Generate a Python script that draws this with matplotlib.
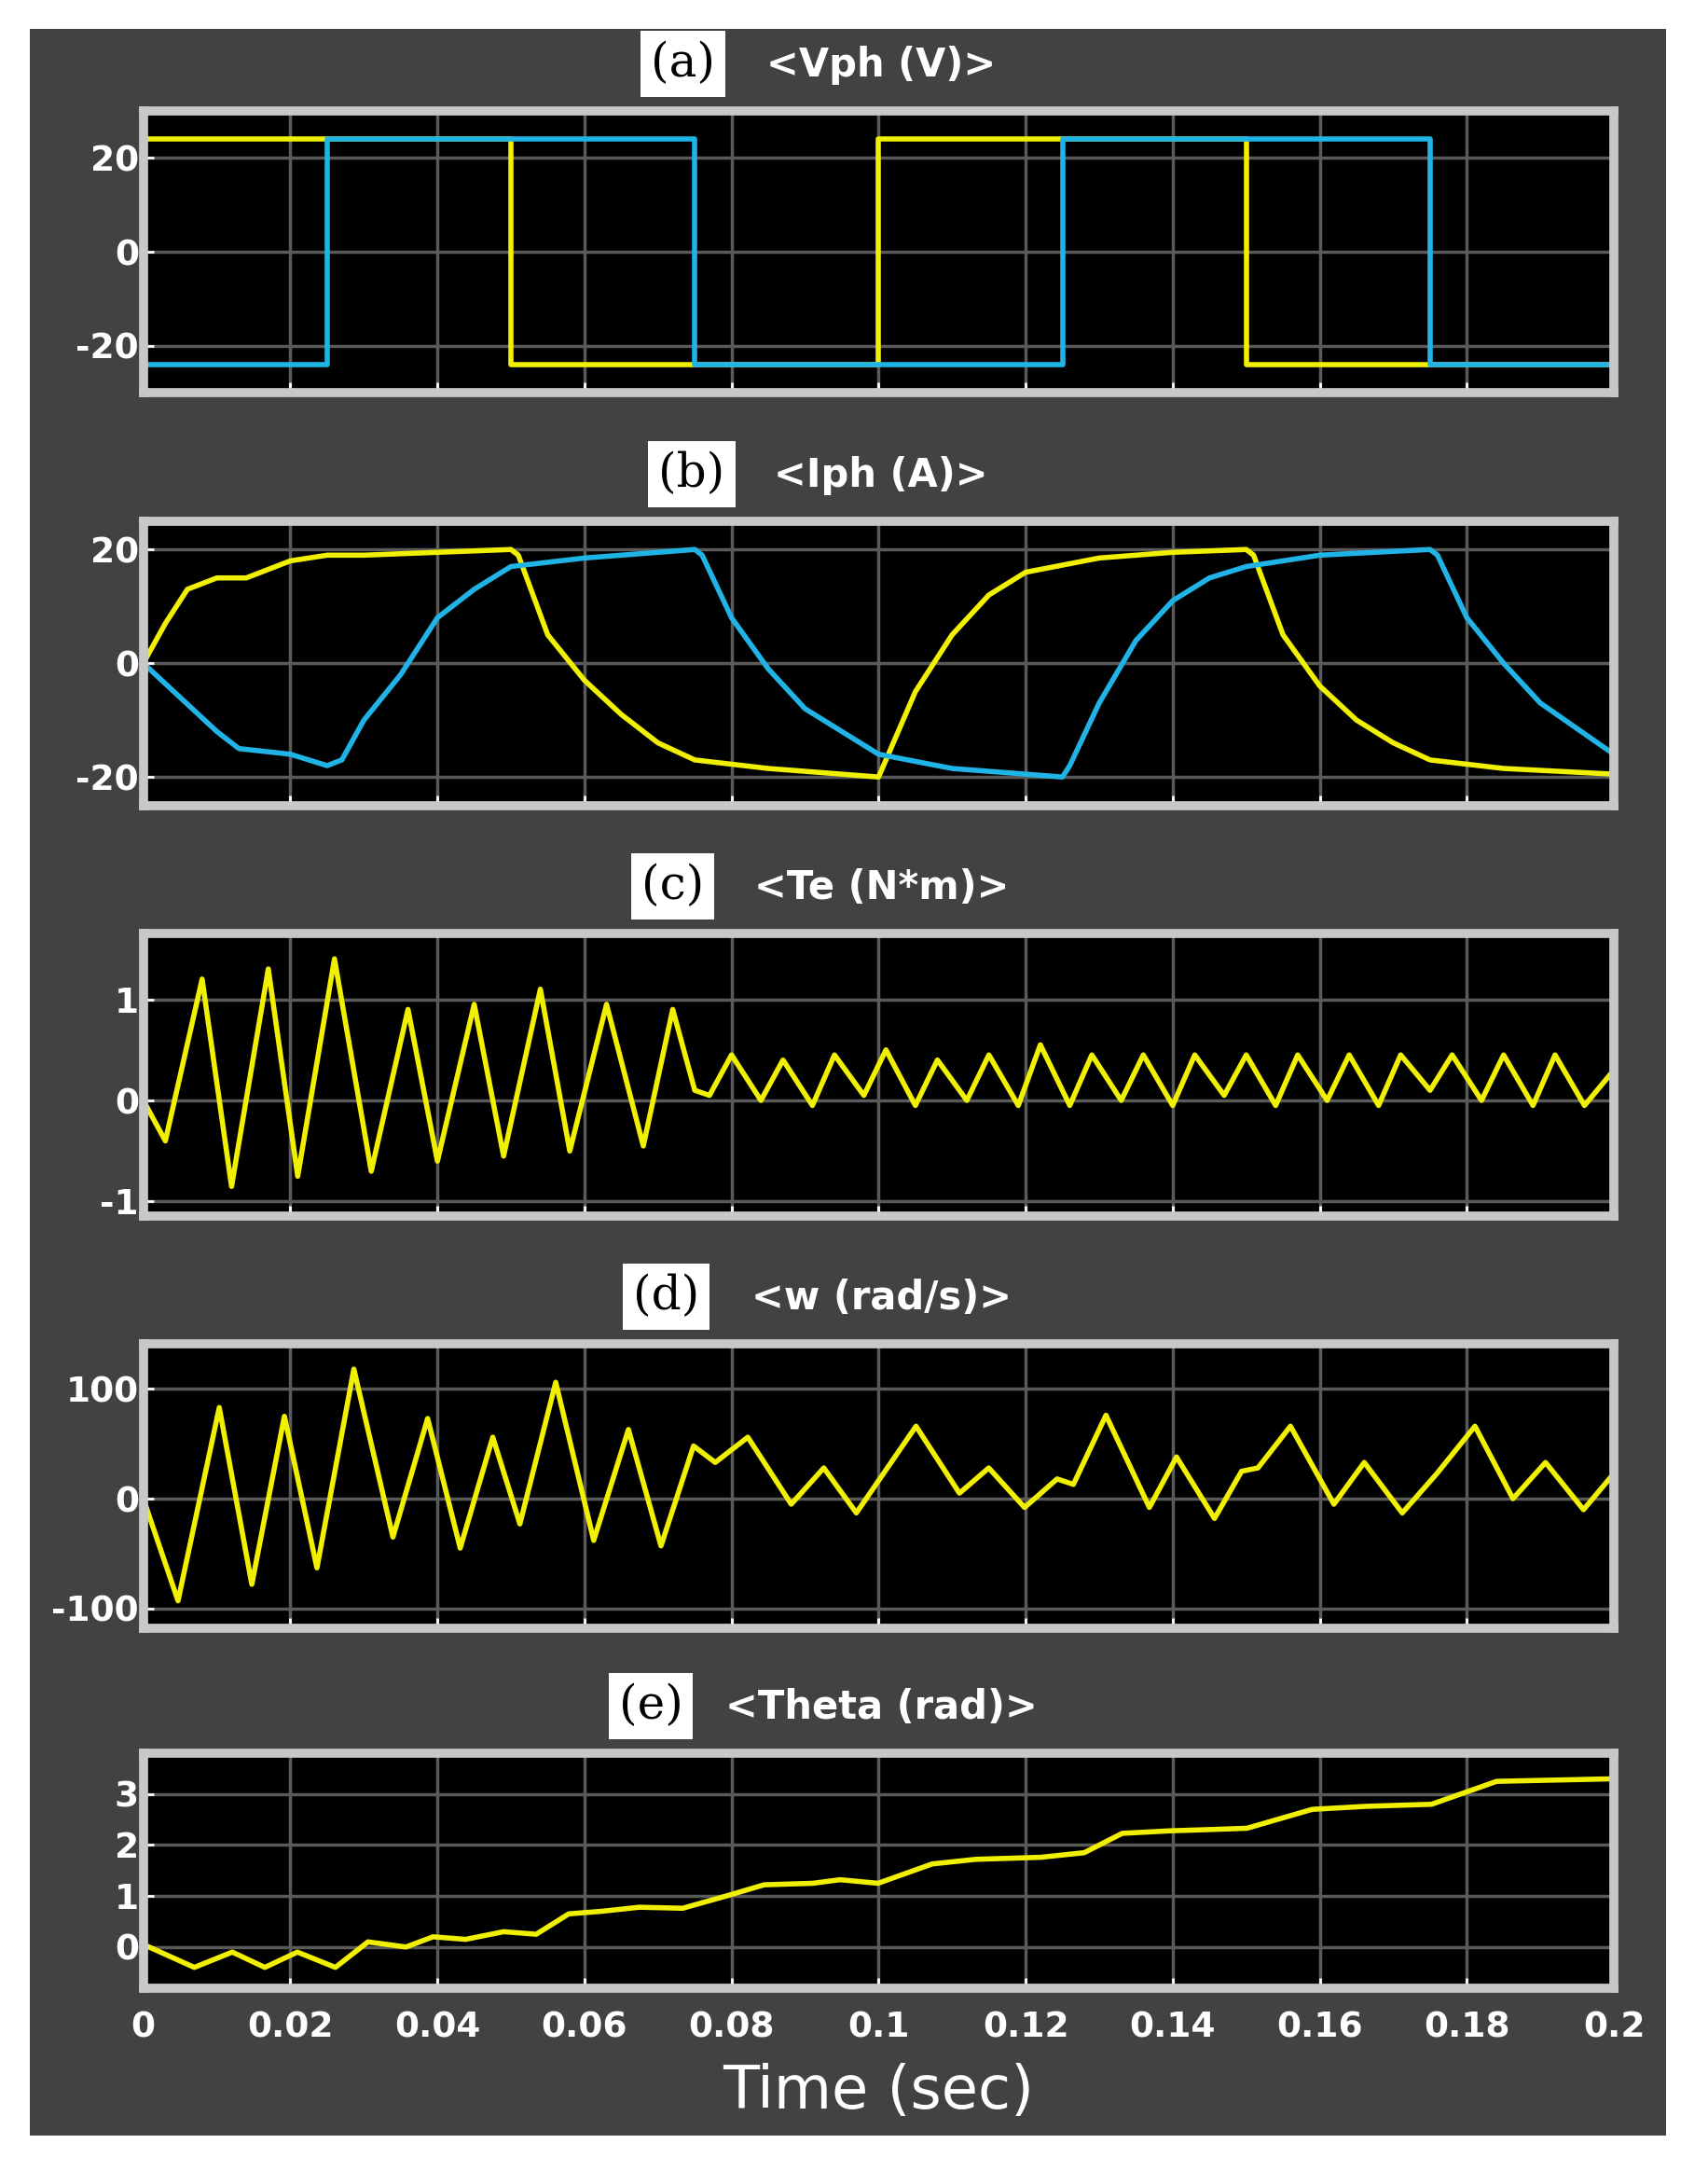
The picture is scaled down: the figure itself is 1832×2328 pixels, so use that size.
import matplotlib
matplotlib.use("Agg")
import matplotlib.pyplot as plt
import numpy as np
from matplotlib.patches import Rectangle

plt.rcParams['axes.unicode_minus'] = False

# (a) phase voltages (step)
va_t = [0, 0.05, 0.05, 0.1, 0.1, 0.15, 0.15, 0.2]
va_y = [24, 24, -24, -24, 24, 24, -24, -24]
vb_t = [0, 0.025, 0.025, 0.075, 0.075, 0.125, 0.125, 0.175, 0.175, 0.2]
vb_y = [-24, -24, 24, 24, -24, -24, 24, 24, -24, -24]

# (b) phase currents
ia_t = [0, 0.003, 0.006, 0.01, 0.014, 0.02, 0.025, 0.03, 0.04, 0.05, 0.051, 0.055, 0.06, 0.065, 0.07, 0.075, 0.085, 0.095, 0.1,
        0.101, 0.105, 0.11, 0.115, 0.12, 0.13, 0.14, 0.15, 0.151, 0.155, 0.16, 0.165, 0.17, 0.175, 0.185, 0.2]
ia_y = [0, 7, 13, 15, 15, 18, 19, 19, 19.5, 20, 19, 5, -3, -9, -14, -17, -18.5, -19.5, -20,
        -17, -5, 5, 12, 16, 18.5, 19.5, 20, 19, 5, -4, -10, -14, -17, -18.5, -19.5]
ib_t = [0, 0.005, 0.01, 0.013, 0.02, 0.025, 0.027, 0.03, 0.035, 0.04, 0.045, 0.05, 0.06, 0.075, 0.076, 0.08, 0.085, 0.09, 0.1,
        0.11, 0.125, 0.126, 0.13, 0.135, 0.14, 0.145, 0.15, 0.16, 0.175, 0.176, 0.18, 0.185, 0.19, 0.2]
ib_y = [0, -6, -12, -15, -16, -18, -17, -10, -2, 8, 13, 17, 18.5, 20, 19, 8, -1, -8, -16,
        -18.5, -20, -18, -7, 4, 11, 15, 17, 19, 20, 19, 8, 0, -7, -16]

# (c) electromagnetic torque
te_t = [0, 0.003, 0.008, 0.012, 0.017, 0.021, 0.026, 0.031, 0.036, 0.040, 0.045, 0.049, 0.054, 0.058, 0.063, 0.068, 0.072, 0.075,
        0.077, 0.080, 0.084, 0.087, 0.091, 0.094, 0.098, 0.101, 0.105, 0.108, 0.112, 0.115, 0.119, 0.122, 0.126, 0.129,
        0.133, 0.136, 0.140, 0.143, 0.147, 0.150, 0.154, 0.157, 0.161, 0.164, 0.168, 0.171, 0.175, 0.178, 0.182, 0.185,
        0.189, 0.192, 0.196, 0.2]
te_y = [0, -0.4, 1.2, -0.85, 1.3, -0.75, 1.4, -0.7, 0.9, -0.6, 0.95, -0.55, 1.1, -0.5, 0.95, -0.45, 0.9, 0.1,
        0.05, 0.45, 0.0, 0.4, -0.05, 0.45, 0.05, 0.5, -0.05, 0.4, 0.0, 0.45, -0.05, 0.55, -0.05, 0.45,
        0.0, 0.45, -0.05, 0.45, 0.05, 0.45, -0.05, 0.45, 0.0, 0.45, -0.05, 0.45, 0.1, 0.45, 0.0, 0.45,
        -0.05, 0.45, -0.05, 0.3]

# (d) rotor speed
w_x = [133, 165, 203, 233, 263, 293, 327, 363, 395, 425, 455, 480, 513, 548, 580, 610, 640, 660, 690, 730, 760, 790,
       845, 885, 912, 945, 975, 990, 1020, 1060, 1085, 1120, 1145, 1160, 1190, 1230, 1258, 1293, 1325, 1360, 1395,
       1425, 1460, 1488]
w_t = [(x - 133) * 0.2 / 1355 for x in w_x]
w_y = [0, -93, 83, -78, 75, -63, 118, -35, 73, -45, 56, -23, 106, -38, 63, -43, 48, 33, 56, -5, 28, -13,
       66, 5, 28, -8, 18, 13, 76, -8, 38, -18, 25, 28, 66, -5, 33, -13, 23, 66, 0, 33, -10, 23]

# (e) rotor angle
th_x = [133, 180, 215, 245, 275, 310, 340, 375, 400, 430, 465, 495, 525, 555, 590, 630, 670, 705, 750, 775, 810,
        860, 900, 960, 1000, 1035, 1080, 1110, 1150, 1210, 1260, 1320, 1380, 1488]
th_t = [(x - 133) * 0.2 / 1355 for x in th_x]
th_y = [0.05, -0.4, -0.1, -0.4, -0.1, -0.4, 0.1, 0.0, 0.2, 0.15, 0.3, 0.25, 0.65, 0.7, 0.78, 0.76, 1.0, 1.22, 1.25,
        1.32, 1.25, 1.63, 1.72, 1.76, 1.85, 2.23, 2.28, 2.3, 2.33, 2.7, 2.76, 2.8, 3.25, 3.3]

xticks = [0, 0.02, 0.04, 0.06, 0.08, 0.1, 0.12, 0.14, 0.16, 0.18, 0.2]
xticklabels = ["0", "0.02", "0.04", "0.06", "0.08", "0.1", "0.12", "0.14", "0.16", "0.18", "0.2"]
labels = ["(a)", "(b)", "(c)", "(d)", "(e)"]
titles = ["<Vph (V)>", "<Iph (A)>", "<Te (N*m)>", "<w (rad/s)>", "<Theta (rad)>"]

YEL = "#f0f000"
CYA = "#20b4e6"

fig = plt.figure(figsize=(18.32, 23.28), dpi=100)
fig.patch.set_facecolor("white")
bg = Rectangle((0.0177, 0.0165), 0.958, 0.970, transform=fig.transFigure,
               facecolor="#424242", edgecolor="none", zorder=-10)
fig.patches.append(bg)

L, W = 0.0839, 0.861
boxes = [(0.819, 0.130), (0.629, 0.131), (0.440, 0.130), (0.250, 0.131), (0.0844, 0.108)]
ylims = [(-30, 30), (-25, 25), (-1.14, 1.65), (-118, 141), (-0.8, 3.8)]
yticks = [[-20, 0, 20], [-20, 0, 20], [-1, 0, 1], [-100, 0, 100], [0, 1, 2, 3]]
title_x = [0.516, 0.516, 0.516, 0.516, 0.516]
lab_x = [0.40, 0.405, 0.394, 0.39, 0.381]

axes = []
for i, (b, h) in enumerate(boxes):
    ax = fig.add_axes([L, b, W, h], zorder=5)
    ax.set_facecolor("black")
    ax.set_xlim(0, 0.2)
    ax.set_ylim(*ylims[i])
    ax.set_xticks(xticks)
    ax.set_yticks(yticks[i])
    ax.grid(True, color="#5a5a5a", linewidth=2.5)
    ax.tick_params(colors="white", labelsize=27, direction="in", length=8, width=2)
    for lab in ax.get_yticklabels():
        lab.set_fontweight("bold")
    if i < 4:
        ax.set_xticklabels([])
    else:
        ax.set_xticklabels(xticklabels, fontweight="bold")
        ax.tick_params(axis="x", pad=18)
    for s in ax.spines.values():
        s.set_color("#c8c8c8")
        s.set_linewidth(7)
    top = b + h
    fig.text(title_x[i], top + 0.012, titles[i], color="white", fontsize=30, fontweight="bold",
             ha="center", va="bottom", zorder=6)
    fig.text(lab_x[i], top + 0.011, labels[i], color="black", fontsize=36, family="DejaVu Serif",
             ha="center", va="bottom", zorder=6,
             bbox=dict(facecolor="white", edgecolor="none", pad=8))
    axes.append(ax)

lw = 4
axes[0].plot(va_t, va_y, color=YEL, lw=lw)
axes[0].plot(vb_t, vb_y, color=CYA, lw=lw)
axes[1].plot(ia_t, ia_y, color=YEL, lw=lw)
axes[1].plot(ib_t, ib_y, color=CYA, lw=lw)
axes[2].plot(te_t, te_y, color=YEL, lw=lw)
axes[3].plot(w_t, w_y, color=YEL, lw=lw)
axes[4].plot(th_t, th_y, color=YEL, lw=lw)

axes[4].set_xlabel("Time (sec)", color="white", fontsize=46, labelpad=14)

fig.savefig("out.png", dpi=100, facecolor=fig.get_facecolor())
